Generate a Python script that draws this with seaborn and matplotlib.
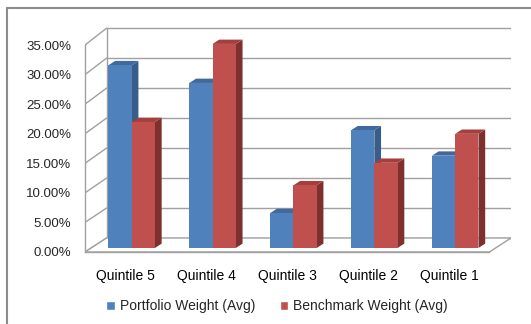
import pandas as pd
import matplotlib
matplotlib.use("Agg")
import matplotlib.pyplot as plt
import seaborn as sns
from matplotlib.patches import Polygon, Rectangle
from matplotlib.ticker import FuncFormatter, MultipleLocator

# data (percent)
categories = ["Quintile 5", "Quintile 4", "Quintile 3", "Quintile 2", "Quintile 1"]
series = ["Portfolio Weight (Avg)", "Benchmark Weight (Avg)"]
portfolio = [30.9, 27.9, 5.9, 19.9, 15.6]
benchmark = [21.3, 34.5, 10.6, 14.4, 19.3]
y_ticks = [0, 5, 10, 15, 20, 25, 30, 35]

front_colors = ["#4F81BD", "#C0504D"]
side_colors = ["#385D8A", "#7E302E"]
top_colors = ["#41699C", "#A43F3C"]
grid_color = "#A0A0A0"

# fake 3d geometry (data units)
WALL_DX, WALL_DY = 0.267, 2.37
BACK_SCALE = 1.014
BAR_SHIFT = 0.29        # fraction of floor depth where bar fronts sit
BAR_DX, BAR_DY = 0.083, 0.73


def back(v):
    return v * BACK_SCALE + WALL_DY


sns.set_style("white")
plt.rcParams["font.family"] = ["Liberation Sans", "DejaVu Sans"]
plt.rcParams["font.size"] = 10

df = pd.DataFrame({
    "category": categories * 2,
    "series": [series[0]] * len(categories) + [series[1]] * len(categories),
    "value": portfolio + benchmark,
})

fig = plt.figure(figsize=(5.31, 3.24), dpi=100)
ax = fig.add_axes([85 / 531, 72 / 324, 426 / 531, 224.7 / 324])
ax.set_facecolor("none")

xmin, xmax = -0.5, len(categories) - 0.5
ymax = y_ticks[-1]

# back wall, left wall, floor
for v in y_ticks:
    ax.plot([xmin + WALL_DX, xmax + WALL_DX], [back(v), back(v)], color=grid_color, lw=1.0, zorder=1)
    ax.plot([xmin, xmin + WALL_DX], [v, back(v)], color=grid_color, lw=1.0, zorder=1)
ax.plot([xmin + WALL_DX] * 2, [back(0), back(ymax)], color=grid_color, lw=1.0, zorder=1)
ax.add_patch(Polygon([(xmin, 0), (xmax, 0), (xmax + WALL_DX, back(0)), (xmin + WALL_DX, back(0))],
                     closed=True, facecolor="white", edgecolor=grid_color, lw=1.0, zorder=1))

sns.barplot(data=df, x="category", y="value", hue="series", palette=front_colors,
            width=0.575, saturation=1, errorbar=None, ax=ax, legend=True, zorder=3)

# shift bars into the floor and add side/top faces
sx, sy = BAR_SHIFT * WALL_DX, BAR_SHIFT * WALL_DY
bars = [p for p in ax.patches if isinstance(p, Rectangle) and p.get_height() > 0]
bars = sorted(bars, key=lambda p: p.get_x())
for i, p in enumerate(bars):
    x, w, h = p.get_x() + sx, p.get_width(), p.get_height()
    k = front_colors.index(matplotlib.colors.to_hex(p.get_facecolor()).upper())
    p.set_x(x)
    p.set_y(sy)
    p.set_edgecolor("none")
    z = 3 + i * 0.1
    p.set_zorder(z + 0.05)
    ax.add_patch(Polygon([(x + w, sy), (x + w + BAR_DX, sy + BAR_DY),
                          (x + w + BAR_DX, sy + h + BAR_DY), (x + w, sy + h)],
                         closed=True, facecolor=side_colors[k], edgecolor="none", zorder=z))
    ax.add_patch(Polygon([(x, sy + h), (x + w, sy + h), (x + w + BAR_DX, sy + h + BAR_DY),
                          (x + BAR_DX, sy + h + BAR_DY)],
                         closed=True, facecolor=top_colors[k], edgecolor="none", zorder=z))

ax.set_xlim(xmin, xmax + WALL_DX)
ax.set_ylim(0, 38)
ax.set_yticks(y_ticks)
ax.yaxis.set_major_formatter(FuncFormatter(lambda v, _: f"{v:.2f}%"))
ax.set_xticks(range(len(categories)))
ax.set_xticklabels(categories)
ax.xaxis.set_minor_locator(MultipleLocator(1, offset=0.5))
ax.tick_params(axis="x", which="major", length=0, pad=12, colors="black")
ax.tick_params(axis="x", which="minor", length=4, color=grid_color, width=1.0)
ax.tick_params(axis="y", length=4, color=grid_color, width=1.0, pad=6, labelsize=9.5)
ax.set_xlabel("")
ax.set_ylabel("")

for side in ["top", "right"]:
    ax.spines[side].set_visible(False)
ax.spines["left"].set_bounds(0, ymax)
ax.spines["bottom"].set_bounds(xmin, xmax)
for side in ["left", "bottom"]:
    ax.spines[side].set_color(grid_color)
    ax.spines[side].set_linewidth(1.0)

sns.move_legend(ax, "center", bbox_to_anchor=(277 / 531, 18 / 324), bbox_transform=fig.transFigure,
                ncol=2, frameon=False, title=None, handlelength=0.6, handleheight=0.6,
                handletextpad=0.35, columnspacing=1.8, fontsize=10)

# outer chart border
fig.add_artist(plt.Line2D([6.5 / 531, 6.5 / 531], [0, 1 - 8.3 / 324], transform=fig.transFigure,
                          color="#8C8C8C", lw=1.5))
fig.add_artist(plt.Line2D([6.5 / 531, 1], [1 - 8.3 / 324, 1 - 8.3 / 324], transform=fig.transFigure,
                          color="#8C8C8C", lw=1.5))

fig.savefig("out.png", dpi=100)
plt.close(fig)
